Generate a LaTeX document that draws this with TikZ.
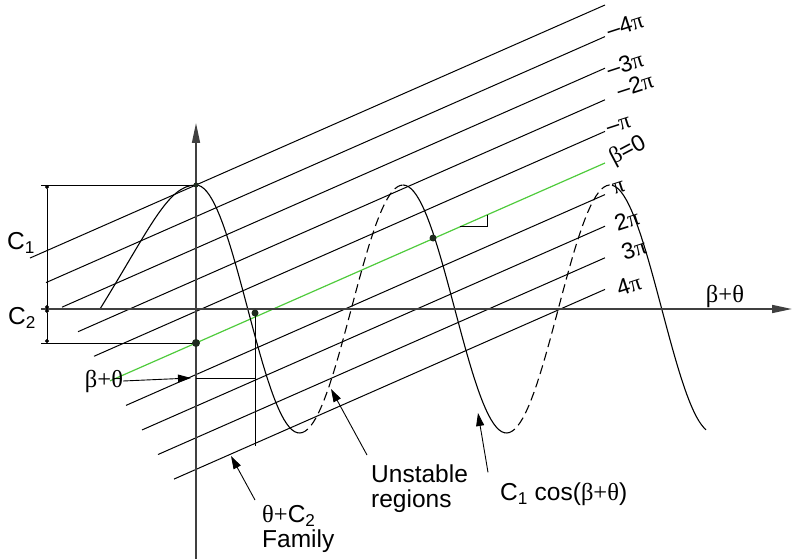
\documentclass[tikz,border=0pt]{standalone}
\usepackage{fontspec}
\setmainfont{Liberation Sans}
\newfontfamily\grkfont{Liberation Serif}
\usetikzlibrary{arrows.meta,calc}
\definecolor{betagreen}{HTML}{4FCB3C}
\definecolor{axisgrey}{HTML}{404040}
\definecolor{dotgrey}{HTML}{1E2A1E}
\newcommand{\gk}[1]{{\grkfont #1}}
\tikzset{
  >=Stealth,
  font=\fontsize{24.5}{25}\selectfont,
  axis/.style={draw=axisgrey,line width=1.6pt,-{Triangle[length=20pt,width=8pt]}},
  family/.style={line width=1pt,black},
  zeroline/.style={line width=1.2pt,draw=betagreen},
  wave/.style={line width=1.1pt,black},
  unstable/.style={wave,dash pattern=on 9pt off 5pt},
  guide/.style={line width=1pt,black},
  dimen/.style={line width=1pt,{Circle[length=4pt]}-{Circle[length=4pt]}},
  pointer/.style={line width=0.9pt,-{Triangle[length=13pt,width=8pt]}},
  lbl/.style={inner sep=0pt},
  multlbl/.style={inner sep=0pt,align=left},
  plbl/.style={inner sep=0pt,anchor=west,rotate=18,font=\fontsize{23}{25}\selectfont},
  dot/.style={circle,fill=dotgrey,inner sep=0pt,minimum size=#1},
}

\begin{document}
\begin{tikzpicture}[x=1pt,y=-1pt]
  \useasboundingbox (0,0) rectangle (795,559);

  % ---- theta + C2 family ----
  \foreach \k in {-5,-4,-3,-2,-1,1,2,3,4}
    \draw[family] ({110+16*(\k)},{343+31.6*(\k)+0.44*(86-16*(\k))})
      -- (605,{163+31.6*(\k)});
  \draw[zeroline] (110,{343+0.44*86}) -- (605,163);
  \draw[guide] (460,226.8) -- (487,226.8) -- (487,215);

  % ---- C1 cos(beta+theta) ----
  \draw[wave] (100,309) .. controls (150,228) and (168,185) .. (196,185);
  \draw[wave] plot[domain=196:300,samples=40] (\x,{309-124*cos(1.7391*(\x-196))});
  \draw[unstable] plot[domain=300:403,samples=40] (\x,{309-124*cos(1.7391*(\x-196))});
  \draw[wave] plot[domain=403:507,samples=40] (\x,{309-124*cos(1.7391*(\x-196))});
  \draw[unstable] plot[domain=507:612,samples=40] (\x,{309-124*cos(1.7391*(\x-196))});
  \draw[wave] plot[domain=612:706,samples=40] (\x,{309-124*cos(1.7391*(\x-196))});

  % ---- axes and guides ----
  \draw[axis] (196,559) -- (196,123);
  \draw[axis] (41,309) -- (792,309);
  \draw[guide] (41,185) -- (196,185);
  \draw[guide] (41,343) -- (196,343);
  \draw[guide] (255,314) -- (255,446);
  \draw[dimen] (47,185) -- (47,309);
  \draw[dimen] (47,309) -- (47,343);

  \node[dot=5pt] (peak) at (196,185) {};
  \node[dot=8pt] (y0) at (196,343) {};
  \node[dot=7pt] (x0) at (255,313) {};
  \node[dot=7pt] (cross) at (433,238) {};

  % ---- left labels ----
  \node[lbl] (c1) at (21,243) {C\textsubscript{1}};
  \node[lbl] (c2) at (22,318) {C\textsubscript{2}};
  \node[lbl] (bt) at (104,381) {\gk{β+θ}};
  \draw[pointer] (bt.east) -- (191,378);
  \draw[guide] (196,378) -- (255,378);
  \node[lbl] (xlab) at (725,296) {\gk{β+θ}};

  % ---- multiples of pi ----
  \node[plbl] (m4) at (607,31) {–4\gk{π}};
  \node[plbl] (m3) at (607,70) {–3\gk{π}};
  \node[plbl] (m2) at (617,91) {–2\gk{π}};
  \node[plbl] (m1) at (607,130) {–\gk{π}};
  \node[plbl,rotate=10] (b0) at (611,160) {\gk{β}=0};
  \node[plbl] (p1) at (613,190) {\gk{π}};
  \node[plbl] (p2) at (615,224) {2\gk{π}};
  \node[plbl] (p3) at (622,253) {3\gk{π}};
  \node[plbl] (p4) at (617,289) {4\gk{π}};

  % ---- bottom labels ----
  \node[multlbl,anchor=north west] (fam) at (262,505) {\gk{θ+}C\textsubscript{2}\\Family};
  \node[multlbl,anchor=north west] (unst) at (371,465) {Unstable\\regions};
  \node[lbl,anchor=west] (cos) at (500,494) {C\textsubscript{1} cos(\gk{β+θ})};
  \coordinate (famtip) at (231,456);
  \coordinate (unsttip) at (331,389);
  \coordinate (costip) at (478,413);
  \draw[pointer] ($(fam.north west)+(-7,-5)$) -- (famtip);
  \draw[pointer] ($(unst.north west)+(-4,-10)$) -- (unsttip);
  \draw[pointer] ($(cos.north west)+(-12,-10)$) -- (costip);
\end{tikzpicture}
\end{document}
